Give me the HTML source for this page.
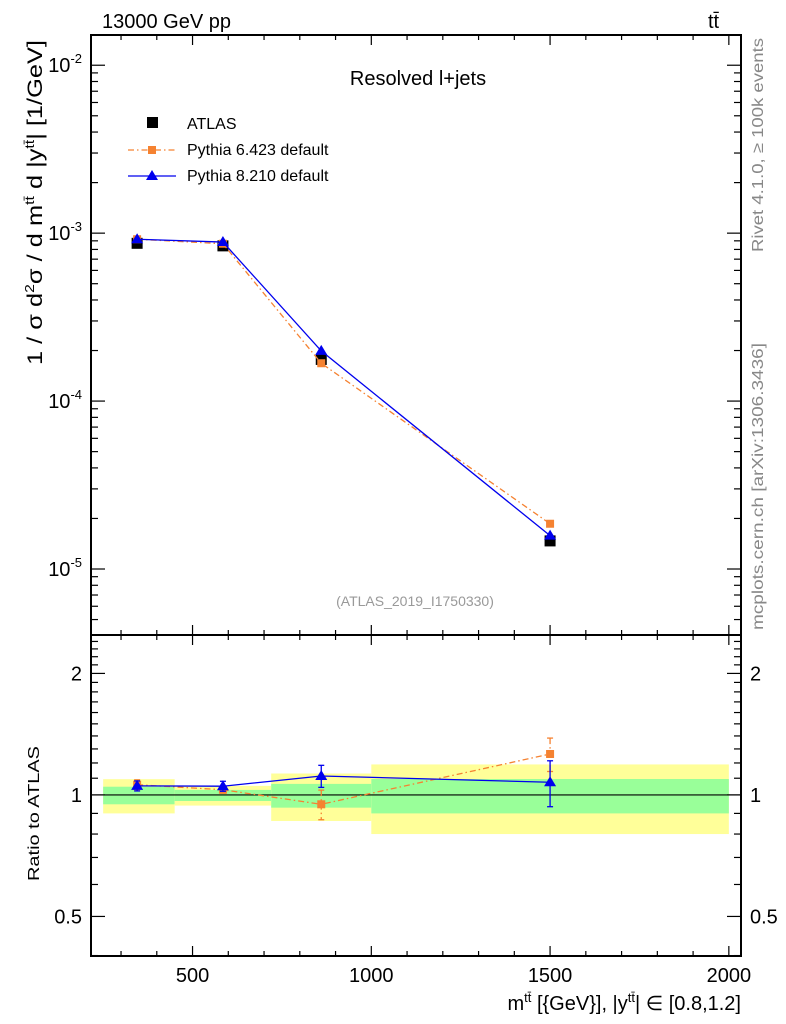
<!DOCTYPE html>
<html><head><meta charset="utf-8"><style>
body{margin:0;background:#fff}
svg{display:block;font-family:"Liberation Sans",sans-serif}
</style></head><body>
<svg id="c" width="786" height="1024" viewBox="0 0 786 1024">
<g id="bands"></g>
<g id="grid"></g>
<g id="marks"></g>
<g id="frame"></g>
<text x="102" y="28" font-size="20">13000 GeV pp</text>
<text x="708" y="28" font-size="20">tt̄</text>
<text x="418" y="85" font-size="20" text-anchor="middle">Resolved l+jets</text>
<text x="415" y="606" font-size="14" fill="#999" text-anchor="middle">(ATLAS_2019_I1750330)</text>
<text transform="translate(763,252) rotate(-90)" font-size="16" fill="#888" textLength="214" lengthAdjust="spacingAndGlyphs">Rivet 4.1.0, ≥ 100k events</text>
<text transform="translate(763,630) rotate(-90)" font-size="16" fill="#888" textLength="287" lengthAdjust="spacingAndGlyphs">mcplots.cern.ch [arXiv:1306.3436]</text>
<text transform="translate(42,365) rotate(-90)" font-size="21" textLength="325" lengthAdjust="spacingAndGlyphs">1 / σ d<tspan font-size="13" dy="-8">2</tspan><tspan dy="8">σ / d m</tspan><tspan font-size="13" dy="-8">tt̄</tspan><tspan dy="8"> d |y</tspan><tspan font-size="13" dy="-8">tt̄</tspan><tspan dy="8">| [1/GeV]</tspan></text>
<text transform="translate(39,881) rotate(-90)" font-size="16" textLength="135" lengthAdjust="spacingAndGlyphs">Ratio to ATLAS</text>
<text x="741" y="1010" font-size="20" text-anchor="end">m<tspan font-size="13" dy="-8">tt̄</tspan><tspan dy="8"> [{GeV}], |y</tspan><tspan font-size="13" dy="-8">tt̄</tspan><tspan dy="8">| ∈ [0.8,1.2]</tspan></text>
<g id="legend">
<rect x="147" y="117" width="11" height="11" fill="#000"/>
<text x="187" y="129" font-size="16">ATLAS</text>
<line x1="128" y1="150" x2="176" y2="150" stroke="#f58231" stroke-width="1.3" stroke-dasharray="6,3,1.5,3"/>
<rect x="148" y="146" width="8" height="8" fill="#f58231"/>
<text x="187" y="155" font-size="16">Pythia 6.423 default</text>
<line x1="128" y1="176" x2="176" y2="176" stroke="#0000ee" stroke-width="1.3"/>
<polygon points="152,170 158,180 146,180" fill="#0000ee"/>
<text x="187" y="181" font-size="16">Pythia 8.210 default</text>
</g>
</svg>
<script>
const binEdges=[250,450,720,1000,2000];
const xCenters=[345,585,860,1500];
const atlas=[8.7e-4,8.4e-4,1.77e-4,1.47e-5];
const pythia6=[9.2e-4,8.65e-4,1.68e-4,1.86e-5];
const pythia8=[9.2e-4,8.85e-4,1.99e-4,1.58e-5];
const ratio6=[1.06,1.03,0.948,1.263];
const ratio6Err=[0.03,0.02,0.08,0.12];
const ratio8=[1.053,1.051,1.114,1.075];
const ratio8Err=[0.03,0.03,0.07,0.14];
const statLo=[0.948,0.966,0.93,0.90];
const statHi=[1.048,1.029,1.065,1.095];
const totLo=[0.90,0.941,0.862,0.80];
const totHi=[1.094,1.053,1.13,1.19];
const xTicks=[500,1000,1500,2000];
const yTicksMain=[-2,-3,-4,-5];
const yTicksRatio=[2,1,0.5];

const L=91,R=741,T=35,MB=635,RB=956;
const X0=216,X1=2034;
const sx=v=>L+(v-X0)/(X1-X0)*(R-L);
const LY0=-5.393,LY1=-1.82;
const sy=v=>MB-(Math.log10(v)-LY0)/(LY1-LY0)*(MB-T);
const RY0=Math.log2(0.399),RY1=Math.log2(2.49);
const sr=v=>RB-(Math.log2(v)-RY0)/(RY1-RY0)*(RB-MB);
const NS='http://www.w3.org/2000/svg';
function mk(tag,parent,attrs){const e=document.createElementNS(NS,tag);for(const k in attrs)e.setAttribute(k,attrs[k]);document.getElementById(parent).appendChild(e);return e;}

for(let i=0;i<4;i++){
  const x=sx(binEdges[i]),w=sx(binEdges[i+1])-x;
  let e=mk('rect','bands',{x:x,y:sr(totHi[i]),width:w,height:sr(totLo[i])-sr(totHi[i]),fill:'#ffff99'});
  
  
  e=mk('rect','bands',{x:x,y:sr(statHi[i]),width:w,height:sr(statLo[i])-sr(statHi[i]),fill:'#99ff99'});
  
  
}
let ref=mk('line','bands',{x1:L,x2:R,y1:sr(1),y2:sr(1),stroke:'#000','stroke-width':1.2});



[[T,MB],[MB,RB]].forEach(([a,b],k)=>{
  const f=mk('rect','frame',{x:L,y:a,width:R-L,height:b-a,fill:'none',stroke:'#000','stroke-width':2});
  
  
  for(let v=300;v<=2000;v+=100){
    const maj=v%500==0,len=maj?10:5,x=sx(v);
    mk('line','frame',{x1:x,x2:x,y1:a,y2:a+len,stroke:'#000','stroke-width':1.2});
    mk('line','frame',{x1:x,x2:x,y1:b,y2:b-len,stroke:'#000','stroke-width':1.2});
  }
});
xTicks.forEach(v=>{const t=mk('text','frame',{x:sx(v),y:982,'font-size':20,'text-anchor':'middle'});t.textContent=v;
  
  });
for(let d=-6;d<=-2;d++){for(let m=1;m<=9;m++){const v=m*Math.pow(10,d);const y=sy(v);if(y<T||y>MB)continue;const len=m==1?14:7;
  mk('line','frame',{x1:L,x2:L+len,y1:y,y2:y,stroke:'#000','stroke-width':1.2});
  mk('line','frame',{x1:R,x2:R-len,y1:y,y2:y,stroke:'#000','stroke-width':1.2});}}
yTicksMain.forEach(d=>{const t=mk('text','frame',{x:82,y:sy(Math.pow(10,d))+7,'font-size':20,'text-anchor':'end'});
  t.innerHTML='10<tspan font-size="13" dy="-9">'+d+'</tspan>';
  
  });
[0.4,0.5,0.6,0.7,0.8,0.9,1,1.1,1.2,1.3,1.4,1.5,1.6,1.7,1.8,1.9,2,2.1,2.2,2.3,2.4].forEach(v=>{const y=sr(v);const len=(v==0.5||v==1||v==2)?14:7;
  mk('line','frame',{x1:L,x2:L+len,y1:y,y2:y,stroke:'#000','stroke-width':1.2});
  mk('line','frame',{x1:R,x2:R-len,y1:y,y2:y,stroke:'#000','stroke-width':1.2});});
yTicksRatio.forEach(v=>{[[82,'end'],[750,'start']].forEach(([x,a])=>{const t=mk('text','frame',{x:x,y:sr(v)+7,'font-size':20,'text-anchor':a});t.textContent=v;
  
  });});

function series(vals,yf,color,dash,marker,name,errs){
  const pts=xCenters.map((x,i)=>sx(x)+','+yf(vals[i])).join(' ');
  if(color){const p=mk('polyline','marks',{points:pts,fill:'none',stroke:color,'stroke-width':1.3,'stroke-dasharray':dash||'none'});
    
    }
  vals.forEach((v,i)=>{const x=sx(xCenters[i]),y=yf(v);const c=color||'#000';
    if(errs){const y1=yf(v+errs[i]),y2=yf(v-errs[i]);
      mk('line','marks',{x1:x,x2:x,y1:y1,y2:y2,stroke:c,'stroke-width':1.3,'stroke-dasharray':dash||'none'});
      mk('line','marks',{x1:x-3,x2:x+3,y1:y1,y2:y1,stroke:c,'stroke-width':1.3});
      mk('line','marks',{x1:x-3,x2:x+3,y1:y2,y2:y2,stroke:c,'stroke-width':1.3});}
    let m;
    if(marker=='sq')m=mk('rect','marks',{x:x-5.5,y:y-5.5,width:11,height:11,fill:'#000'});
    else if(marker=='osq')m=mk('rect','marks',{x:x-4,y:y-4,width:8,height:8,fill:c});
    else m=mk('polygon','marks',{points:`${x},${y-6} ${x+6},${y+4} ${x-6},${y+4}`,fill:c});
    
    });
}
series(atlas,sy,null,null,'sq','atlas');
series(pythia6,sy,'#f58231','6,3,1.5,3','osq','pythia6');
series(pythia8,sy,'#0000ee',null,'tri','pythia8');
series(ratio6,sr,'#f58231','6,3,1.5,3','osq','pythia6-ratio',ratio6Err);
series(ratio8,sr,'#0000ee',null,'tri','pythia8-ratio',ratio8Err);
</script>
</body></html>
